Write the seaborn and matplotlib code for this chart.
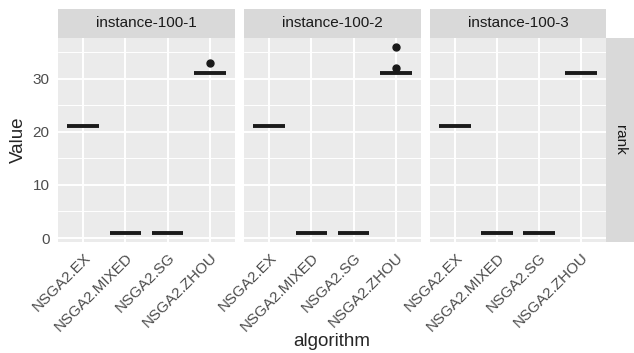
import pandas as pd
import seaborn as sns
import matplotlib.pyplot as plt

sns.set_style('white')
plt.rcParams['font.family'] = ['Liberation Sans', 'DejaVu Sans']

# 数据
instances = ['instance-100-1', 'instance-100-2', 'instance-100-3']
algorithms = ['NSGA2.EX', 'NSGA2.MIXED', 'NSGA2.SG', 'NSGA2.ZHOU']

ex_vals = [[21, 21, 21, 21, 21], [21, 21, 21, 21, 21], [21, 21, 21, 21, 21]]
mixed_vals = [[1, 1, 1, 1, 1], [1, 1, 1, 1, 1], [1, 1, 1, 1, 1]]
sg_vals = [[1, 1, 1, 1, 1], [1, 1, 1, 1, 1], [1, 1, 1, 1, 1]]
zhou_vals = [[31, 31, 31, 31, 31, 31, 31, 31, 33],
             [31, 31, 31, 31, 31, 31, 31, 32, 36],
             [31, 31, 31, 31, 31, 31, 31, 31, 31]]

rows = []
for i, inst in enumerate(instances):
    for alg, vals in zip(algorithms, [ex_vals[i], mixed_vals[i], sg_vals[i], zhou_vals[i]]):
        for v in vals:
            rows.append({'instance': inst, 'algorithm': alg, 'Value': v})
df = pd.DataFrame(rows)

W, H = 634, 353
fig = plt.figure(figsize=(W / 100, H / 100), dpi=100)

panel_x = [(58, 235), (244, 421), (430, 606)]
top, bottom, strip_top = 37.5, 242, 9

for i, inst in enumerate(instances):
    x0, x1 = panel_x[i]
    ax = fig.add_axes([x0 / W, 1 - bottom / H, (x1 - x0) / W, (bottom - top) / H])
    ax.set_facecolor('#EBEBEB')
    sub = df[df['instance'] == inst]
    sns.boxplot(data=sub, x='algorithm', y='Value', order=algorithms, ax=ax,
                width=0.75, color='white', linecolor='#333333', linewidth=1.4,
                showcaps=False, fliersize=5,
                flierprops=dict(marker='o', markerfacecolor='#1A1A1A', markeredgecolor='#1A1A1A'),
                medianprops=dict(color='#1A1A1A', linewidth=2.8, solid_capstyle='butt'),
                boxprops=dict(facecolor='white', edgecolor='#1A1A1A'))
    ax.set_xlim(-0.6, 3.6)
    ax.set_ylim(-0.75, 37.75)
    ax.set_yticks([0, 10, 20, 30])
    ax.set_yticks([5, 15, 25, 35], minor=True)
    ax.grid(True, which='major', color='white', linewidth=1.4)
    ax.grid(True, which='minor', axis='y', color='white', linewidth=0.7)
    ax.set_axisbelow(True)
    for s in ax.spines.values():
        s.set_visible(False)
    ax.tick_params(axis='both', which='major', length=3.5, width=1.0, color='#333333',
                   labelsize=11, labelcolor='#4D4D4D', pad=2.5)
    ax.tick_params(axis='y', which='minor', length=0)
    ax.set_xticks(range(len(algorithms)))
    ax.set_xticklabels(algorithms, rotation=45, ha='right', rotation_mode='anchor')
    ax.set_xlabel('')
    ax.set_ylabel('')
    if i > 0:
        ax.tick_params(axis='y', left=False, labelleft=False)

    # 分面标题
    sax = fig.add_axes([x0 / W, 1 - top / H, (x1 - x0) / W, (top - strip_top) / H])
    sax.set_facecolor('#D9D9D9')
    sax.set_xticks([])
    sax.set_yticks([])
    for s in sax.spines.values():
        s.set_visible(False)
    sax.text(0.5, 0.5, inst, ha='center', va='center', fontsize=11, color='#1A1A1A',
             transform=sax.transAxes)

rax = fig.add_axes([606 / W, 1 - bottom / H, (634 - 606) / W, (bottom - top) / H])
rax.set_facecolor('#D9D9D9')
rax.set_xticks([])
rax.set_yticks([])
for s in rax.spines.values():
    s.set_visible(False)
rax.text(0.5, 0.5, 'rank', ha='center', va='center', rotation=-90, fontsize=11,
         color='#1A1A1A', transform=rax.transAxes)

fig.text(332 / W, 1 - 342 / H, 'algorithm', ha='center', va='center', fontsize=13.5)
fig.text(18 / W, 1 - 140 / H, 'Value', ha='center', va='center', rotation=90, fontsize=13.5)

plt.savefig('out.png', dpi=100)
